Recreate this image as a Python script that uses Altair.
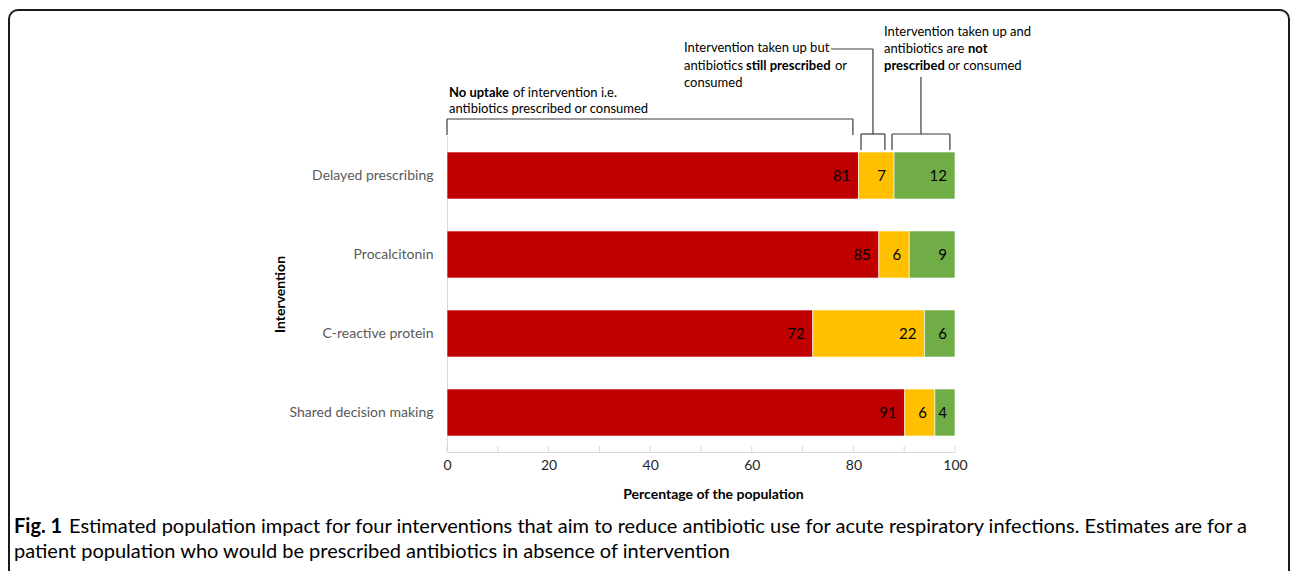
import altair as alt
import pandas as pd

# ---------------- data ----------------
categories = ["Delayed prescribing", "Procalcitonin", "C-reactive protein", "Shared decision making"]
series_names = ["No uptake", "Taken up, still prescribed", "Taken up, not prescribed"]
no_uptake = [81, 85, 72, 91]
uptake_still = [7, 6, 22, 6]
uptake_not = [12, 9, 6, 4]
colors = ["#C00000", "#FFC000", "#70AD47"]
x_labels = [0, 20, 40, 60, 80, 100]
x_minor = [0, 10, 20, 30, 40, 50, 60, 70, 80, 90, 100]

# bracket geometry (x in % of population, y in pixels relative to plot top)
br_x = [0.0, 0.0, 79.9, 81.5, 81.5, 86.2, 83.85, 75.6, 87.6, 87.6, 99.0, 93.3]
br_x2 = [0.0, 79.9, 79.9, 81.5, 86.2, 86.2, 83.85, 83.85, 87.6, 99.0, 99.0, 93.3]
br_y = [-17, -17, -17, -2, -2, -2, -87, -87, -2, -2, -2, -59]
br_y2 = [-1, -17, -1, 14, -2, 14, -2, -87, 14, -2, 14, -2]

# annotation text pieces (pixel positions relative to plot origin)
ann_text = ["No uptake", "of intervention i.e.", "antibiotics prescribed or consumed",
            "Intervention taken up but", "antibiotics", "still prescribed", "or", "consumed",
            "Intervention taken up and", "antibiotics are", "not", "prescribed", "or consumed"]
ann_bold = [True, False, False,
            False, False, True, False, False,
            False, False, True, True, False]
ann_px = [2, 66, 2,
          237, 237, 299, 388, 237,
          437, 437, 521, 437, 501]
ann_py = [-43, -43, -27,
          -88, -70, -70, -70, -53,
          -104, -87, -87, -70, -70]

caption_bold = "Fig. 1"
caption_1 = ("Estimated population impact for four interventions that aim to reduce antibiotic use "
             "for acute respiratory infections. Estimates are for a")
caption_2 = "patient population who would be prescribed antibiotics in absence of intervention"

FONT = "Lato"

rows = []
for i, c in enumerate(categories):
    for k, (s, vals) in enumerate(zip(series_names, [no_uptake, uptake_still, uptake_not])):
        rows.append({"category": c, "series": s, "order": k, "value": vals[i]})
df = pd.DataFrame(rows)

base = (
    alt.Chart(df)
    .transform_joinaggregate(total="sum(value)", groupby=["category"])
    .transform_calculate(pct="datum.value / datum.total * 100")
    .transform_window(cum="sum(pct)", groupby=["category"],
                      sort=[alt.SortField("order")], frame=[None, 0])
    .transform_calculate(start="datum.cum - datum.pct")
)

xscale = alt.Scale(domain=[0, 100], nice=False, zero=True)
yscale = alt.Scale(domain=categories, paddingInner=0.405, paddingOuter=0.2025)

bars = base.mark_bar(stroke="white", strokeWidth=0.6).encode(
    x=alt.X("start:Q", scale=xscale,
            axis=alt.Axis(values=x_labels, title="Percentage of the population",
                          grid=False, ticks=False, domainColor="#d9d9d9",
                          labelFont=FONT, labelFontSize=14, labelColor="#262626",
                          labelFlush=False, labelPadding=6, titleFont=FONT, titleFontSize=14,
                          titleFontWeight="bold", titleColor="black", titlePadding=15,
                          titleX=266, titleAlign="center")),
    x2="cum:Q",
    y=alt.Y("category:N", sort=categories, scale=yscale,
            axis=alt.Axis(title="Intervention", ticks=False, domainColor="#d9d9d9",
                          labelFont=FONT, labelFontSize=14, labelColor="#595959",
                          labelPadding=14, titleFont=FONT, titleFontSize=14,
                          titleFontWeight="bold", titleColor="black",
                          titleX=-167, titleY=158, titleAlign="center",
                          titleBaseline="middle", titleAngle=270)),
    color=alt.Color("series:N", scale=alt.Scale(domain=series_names, range=colors), legend=None),
)

labels = base.mark_text(align="right", baseline="middle", dx=-8, font=FONT,
                        fontSize=15, color="black").encode(
    x=alt.X("cum:Q", scale=xscale, axis=None),
    y=alt.Y("category:N", sort=categories, scale=yscale, axis=None),
    text="value:Q",
)

ticks = alt.Chart(pd.DataFrame({"t": x_minor})).mark_rule(color="#d9d9d9").encode(
    x=alt.X("t:Q", scale=xscale, axis=None),
    y=alt.value(310), y2=alt.value(316),
)

br_df = pd.DataFrame({"x": br_x, "x2": br_x2, "y": br_y, "y2": br_y2})
brackets = alt.Chart(br_df).mark_rule(color="#3a3a3a", strokeWidth=1.2).encode(
    x=alt.X("x:Q", scale=xscale, axis=None),
    x2="x2:Q",
    y=alt.Y("y:Q", scale=None, axis=None),
    y2="y2:Q",
)

ann_df = pd.DataFrame({"text": ann_text, "bold": ann_bold, "px": ann_px, "py": ann_py})
ann_normal = alt.Chart(ann_df).transform_filter("!datum.bold").mark_text(
    align="left", baseline="middle", font=FONT, fontSize=13, color="black").encode(
    x=alt.X("px:Q", scale=None, axis=None),
    y=alt.Y("py:Q", scale=None, axis=None),
    text="text:N",
)
ann_boldl = alt.Chart(ann_df).transform_filter("datum.bold").mark_text(
    align="left", baseline="middle", font=FONT, fontSize=13, fontWeight="bold",
    color="black").encode(
    x=alt.X("px:Q", scale=None, axis=None),
    y=alt.Y("py:Q", scale=None, axis=None),
    text="text:N",
)

cap_df = pd.DataFrame({"a": [caption_bold], "b": [caption_1], "c": [caption_2]})
cap1 = alt.Chart(cap_df).mark_text(align="left", baseline="middle", font=FONT, fontSize=20,
                                   fontWeight="bold", color="black").encode(
    x=alt.value(-433), y=alt.value(391), text="a:N")
cap2 = alt.Chart(cap_df).mark_text(align="left", baseline="middle", font=FONT, fontSize=20,
                                   color="black").encode(
    x=alt.value(-378), y=alt.value(391), text="b:N")
cap3 = alt.Chart(cap_df).mark_text(align="left", baseline="middle", font=FONT, fontSize=20,
                                   color="black").encode(
    x=alt.value(-433), y=alt.value(416), text="c:N")

border = alt.Chart(cap_df).mark_rect(fillOpacity=0, stroke="#1a1a1a", strokeWidth=2,
                                     cornerRadius=9).encode(
    x=alt.value(-438), x2=alt.value(842), y=alt.value(-126), y2=alt.value(470))

chart = (
    alt.layer(bars, labels, ticks, brackets, ann_normal, ann_boldl, cap1, cap2, cap3, border)
    .resolve_scale(x="independent", y="independent")
    .properties(width=508, height=316,
                autosize=alt.AutoSizeParams(type="none"),
                padding={"left": 447, "top": 136, "right": 335, "bottom": 119},
                background="white")
    .configure_view(stroke=None)
)

chart.save("out.html", embed_options={"renderer": "svg", "actions": False})
